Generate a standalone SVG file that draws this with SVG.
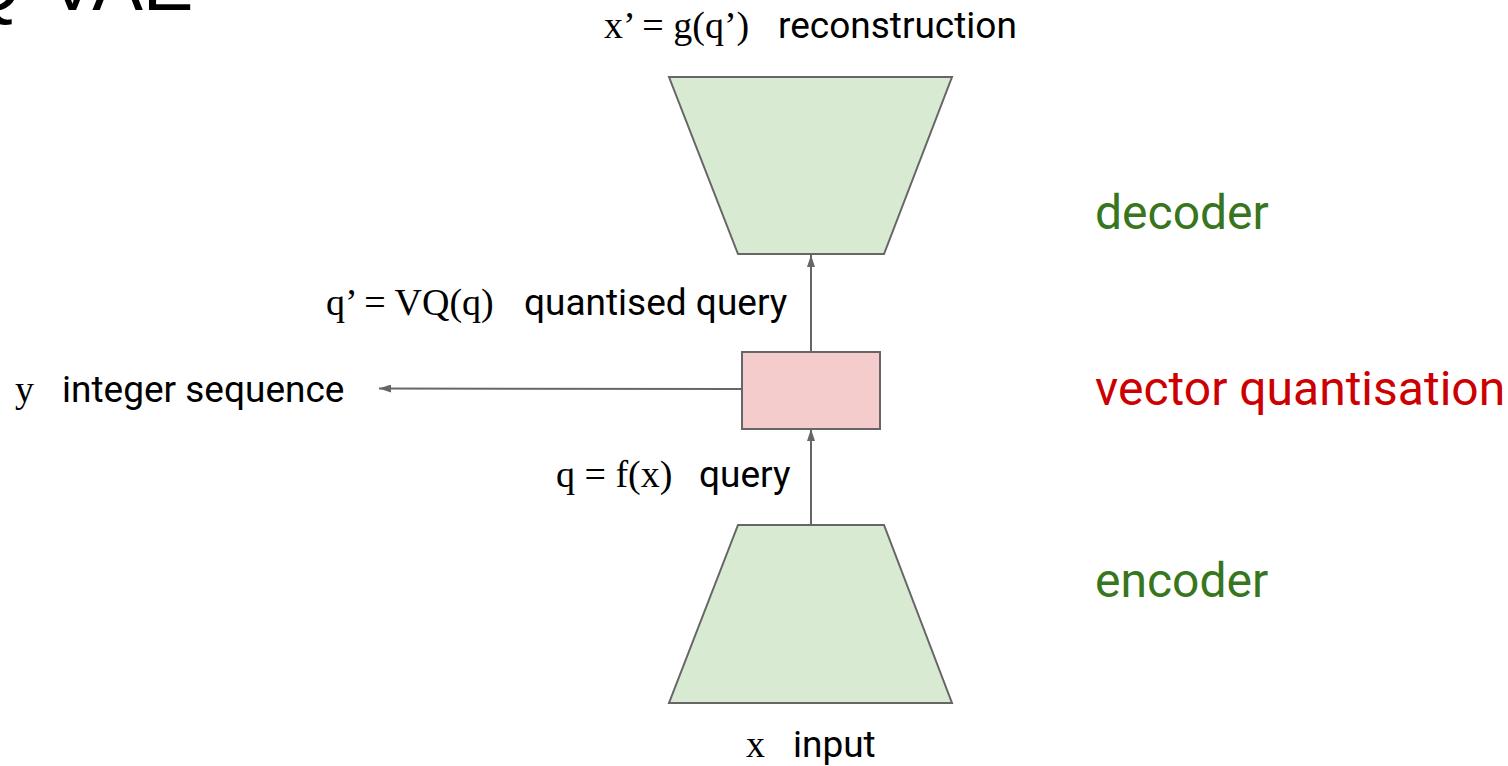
<svg xmlns="http://www.w3.org/2000/svg" width="1508" height="766" viewBox="0 0 1508 766">
  <style>
    .math { font-family: "Liberation Serif", "Times New Roman", serif; font-size: 38px; fill: #000; }
    .lbl { font-family: Roboto, "Liberation Sans", sans-serif; font-size: 37px; fill: #000; }
    .side { font-family: Roboto, "Liberation Sans", sans-serif; font-size: 48px; }
    .green { fill: #38761d; }
    .red { fill: #cc0000; }
    .block { fill: #d9ead3; stroke: #666; stroke-width: 2; stroke-linejoin: miter; }
    .vq { fill: #f4cccc; stroke: #666; stroke-width: 2; }
    .link { stroke: #666; stroke-width: 2; fill: none; marker-end: url(#head); }
    .title { font-family: "Liberation Sans", Arial, sans-serif; font-size: 76px; fill: #000; }
  </style>
  <defs>
    <marker id="head" viewBox="0 0 12 8" refX="12" refY="4" markerWidth="12" markerHeight="8" markerUnits="userSpaceOnUse" orient="auto">
      <path d="M0,0 L12,4 L0,8 z" fill="#666"/>
    </marker>
  </defs>

  <rect width="1508" height="766" fill="#fff"/>

  <!-- slide title, running off the top edge -->
  <text class="title" x="-88" y="10">VQ-VAE</text>

  <!-- connectors -->
  <g id="connectors">
    <line class="link" x1="811" y1="525" x2="811" y2="429"/>
    <line class="link" x1="811" y1="352" x2="811" y2="255"/>
    <line class="link" x1="742" y1="389" x2="379" y2="388.5"/>
  </g>

  <!-- encoder -->
  <g id="encoder">
    <polygon class="block" points="738,525 884,525 952,703 669,703"/>
  </g>

  <!-- vector quantisation -->
  <g id="quantiser">
    <rect class="vq" x="742" y="352" width="138" height="77"/>
  </g>

  <!-- decoder -->
  <g id="decoder">
    <polygon class="block" points="669,77 952,77 884,254 738,254"/>
  </g>

  <!-- labels -->
  <g id="labels">
    <text class="math" x="604" y="38">x’ = g(q’)</text>
    <text class="lbl" x="778" y="38">reconstruction</text>

    <text class="math" x="326" y="315">q’ = VQ(q)</text>
    <text class="lbl" x="524" y="315">quantised query</text>

    <text class="math" x="15" y="402">y</text>
    <text class="lbl" x="62" y="402">integer sequence</text>

    <text class="math" x="556" y="487">q = f(x)</text>
    <text class="lbl" x="699" y="487">query</text>

    <text class="math" x="746" y="757">x</text>
    <text class="lbl" x="793" y="757">input</text>
  </g>

  <g id="stage-names">
    <text class="side green" x="1095" y="229">decoder</text>
    <text class="side red" x="1095" y="405">vector quantisation</text>
    <text class="side green" x="1095" y="597">encoder</text>
  </g>
</svg>
